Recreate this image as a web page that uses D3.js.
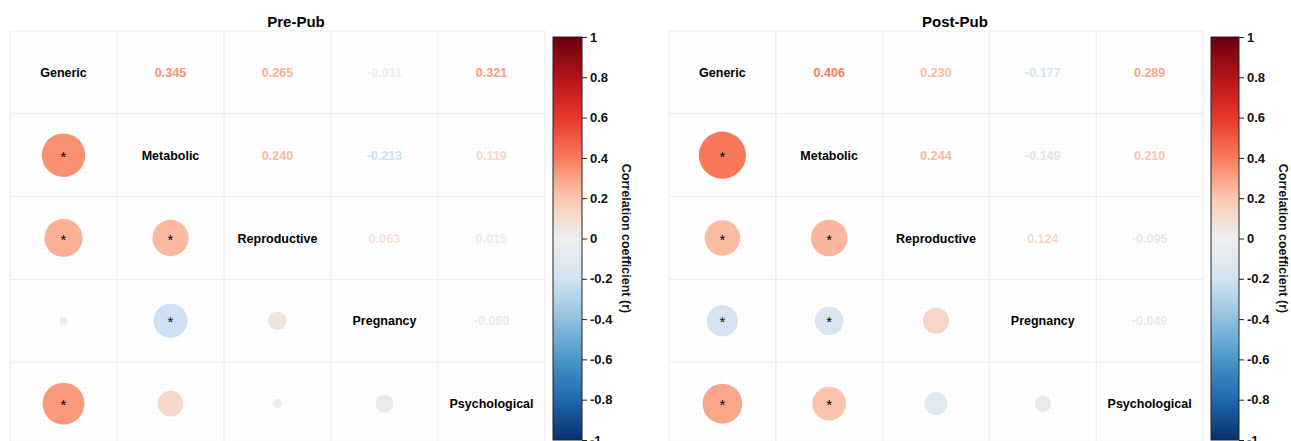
<!DOCTYPE html>
<html>
<head>
<meta charset="utf-8">
<script src="https://cdn.jsdelivr.net/npm/d3@7"></script>
<style>
  html, body { margin: 0; padding: 0; background: #ffffff; }
  svg { display: block; font-family: "Liberation Sans", Arial, sans-serif; }
</style>
</head>
<body>
<svg id="chart" width="1291" height="441"></svg>
<script>
// ---------------- data ----------------
const variables = ["Generic", "Metabolic", "Reproductive", "Pregnancy", "Psychological"];

const prePubR = [
  [1.000, 0.345, 0.265, -0.011, 0.321],
  [0.345, 1.000, 0.240, -0.213, 0.119],
  [0.265, 0.240, 1.000, 0.063, 0.015],
  [-0.011, -0.213, 0.063, 1.000, -0.060],
  [0.321, 0.119, 0.015, -0.060, 1.000]
];
const prePubSig = [
  [0, 1, 1, 0, 1],
  [1, 0, 1, 1, 0],
  [1, 1, 0, 0, 0],
  [0, 1, 0, 0, 0],
  [1, 0, 0, 0, 0]
];

const postPubR = [
  [1.000, 0.406, 0.230, -0.177, 0.289],
  [0.406, 1.000, 0.244, -0.149, 0.210],
  [0.230, 0.244, 1.000, 0.124, -0.095],
  [-0.177, -0.149, 0.124, 1.000, -0.049],
  [0.289, 0.210, -0.095, -0.049, 1.000]
];
const postPubSig = [
  [0, 1, 1, 1, 1],
  [1, 0, 1, 1, 1],
  [1, 1, 0, 0, 0],
  [1, 1, 0, 0, 0],
  [1, 1, 0, 0, 0]
];

const panelTitles = ["Pre-Pub", "Post-Pub"];
const colorbarTicks = [1, 0.8, 0.6, 0.4, 0.2, 0, -0.2, -0.4, -0.6, -0.8, -1];
const colorbarTitle = "Correlation coefficient (r)";

// colour stops
const colorStops = [-1, -0.8, -0.6, -0.4, -0.2, 0, 0.2, 0.4, 0.6, 0.8, 1];
const colorValues = ["#08306b", "#1f68ad", "#4a96c8", "#91c0de", "#d2e3f3", "#eeeeee",
                     "#fcc8b0", "#f87b5a", "#e6372a", "#b5131b", "#67000d"];

// ---------------- layout ----------------
const svg = d3.select("#chart");
const color = d3.scaleLinear().domain(colorStops).range(colorValues).interpolate(d3.interpolateRgb);

const panels = [
  { title: panelTitles[0], r: prePubR, sig: prePubSig, gx: [10, 545], cb: [553, 582], titleX: 296 },
  { title: panelTitles[1], r: postPubR, sig: postPubSig, gx: [669, 1203], cb: [1211, 1239], titleX: 955 }
];
const gridY = [31, 445];
const cbY = [37, 440];

// fine background texture
const defs = svg.append("defs");
const pat = defs.append("pattern").attr("id", "fine").attr("width", 4).attr("height", 4)
  .attr("patternUnits", "userSpaceOnUse");
pat.append("path").attr("d", "M4 0 L0 0 0 4").attr("fill", "none")
  .attr("stroke", "#f5f5f5").attr("stroke-width", 0.6);

const grad = defs.append("linearGradient").attr("id", "cbgrad")
  .attr("x1", 0).attr("y1", 1).attr("x2", 0).attr("y2", 0);
grad.selectAll("stop").data(colorStops).join("stop")
  .attr("offset", d => (d + 1) / 2)
  .attr("stop-color", d => color(d));

panels.forEach(p => {
  const g = svg.append("g");
  const x = d3.scaleBand().domain(variables).range(p.gx);
  const y = d3.scaleBand().domain(variables).range(gridY);
  const rad = d3.scaleSqrt().domain([0, 1]).range([0, 37]);

  g.append("rect").attr("x", p.gx[0]).attr("y", gridY[0])
    .attr("width", p.gx[1] - p.gx[0]).attr("height", gridY[1] - gridY[0])
    .attr("fill", "url(#fine)");

  // cell grid lines
  const xs = variables.map(v => x(v)).concat([p.gx[1]]);
  const ys = variables.map(v => y(v)).concat([gridY[1]]);
  g.selectAll("line.vx").data(xs).join("line")
    .attr("x1", d => d).attr("x2", d => d).attr("y1", gridY[0]).attr("y2", gridY[1])
    .attr("stroke", "#ececec").attr("stroke-width", 1);
  g.selectAll("line.hy").data(ys).join("line")
    .attr("y1", d => d).attr("y2", d => d).attr("x1", p.gx[0]).attr("x2", p.gx[1])
    .attr("stroke", "#ececec").attr("stroke-width", 1);

  const cells = [];
  variables.forEach((rv, i) => variables.forEach((cv, j) => {
    cells.push({ i, j, rv, cv, r: p.r[i][j], s: p.sig[i][j] });
  }));

  const cx = d => x(d.cv) + x.bandwidth() / 2;
  const cy = d => y(d.rv) + y.bandwidth() / 2;

  // lower triangle: circles
  const lower = cells.filter(d => d.i > d.j);
  g.selectAll("circle.c").data(lower).join("circle")
    .attr("cx", cx).attr("cy", cy)
    .attr("r", d => rad(Math.abs(d.r)))
    .attr("fill", d => color(d.r));
  g.selectAll("text.star").data(lower.filter(d => d.s)).join("text")
    .attr("x", cx).attr("y", d => cy(d) + 6.5)
    .attr("text-anchor", "middle").attr("font-size", 15).attr("fill", "#000")
    .text("*");

  // upper triangle: numbers
  g.selectAll("text.num").data(cells.filter(d => d.i < d.j)).join("text")
    .attr("x", cx).attr("y", d => cy(d) + 4.5)
    .attr("text-anchor", "middle").attr("font-size", 12.5).attr("font-weight", "bold")
    .attr("fill", d => color(d.r))
    .text(d => d.r.toFixed(3));

  // diagonal: labels
  g.selectAll("text.lab").data(cells.filter(d => d.i === d.j)).join("text")
    .attr("x", cx).attr("y", d => cy(d) + 4.5)
    .attr("text-anchor", "middle").attr("font-size", 12.5).attr("font-weight", "bold")
    .attr("fill", "#000")
    .text(d => d.rv);

  // title
  g.append("text").attr("x", p.titleX).attr("y", 27).attr("text-anchor", "middle")
    .attr("font-size", 15).attr("font-weight", "bold").text(p.title);

  // colour bar
  const cbScale = d3.scaleLinear().domain([-1, 1]).range([cbY[1], cbY[0]]);
  g.append("rect").attr("x", p.cb[0]).attr("y", cbY[0])
    .attr("width", p.cb[1] - p.cb[0]).attr("height", cbY[1] - cbY[0])
    .attr("fill", "url(#cbgrad)").attr("stroke", "#222").attr("stroke-width", 1);
  const axis = d3.axisRight(cbScale).tickValues(colorbarTicks).tickSize(5).tickPadding(3)
    .tickFormat(d => String(d));
  const ag = g.append("g").attr("transform", `translate(${p.cb[1]},0)`).call(axis);
  ag.select(".domain").remove();
  ag.selectAll("line").attr("stroke", "#222");
  ag.selectAll("text").attr("font-size", 13).attr("font-weight", "bold").attr("fill", "#111")
    .attr("font-family", "Liberation Sans, Arial, sans-serif");

  g.append("text")
    .attr("transform", `translate(${p.cb[1] + 40},${(cbY[0] + cbY[1]) / 2}) rotate(90)`)
    .attr("text-anchor", "middle").attr("font-size", 12.5).attr("font-weight", "bold")
    .attr("fill", "#111").text(colorbarTitle);
});
</script>
</body>
</html>
